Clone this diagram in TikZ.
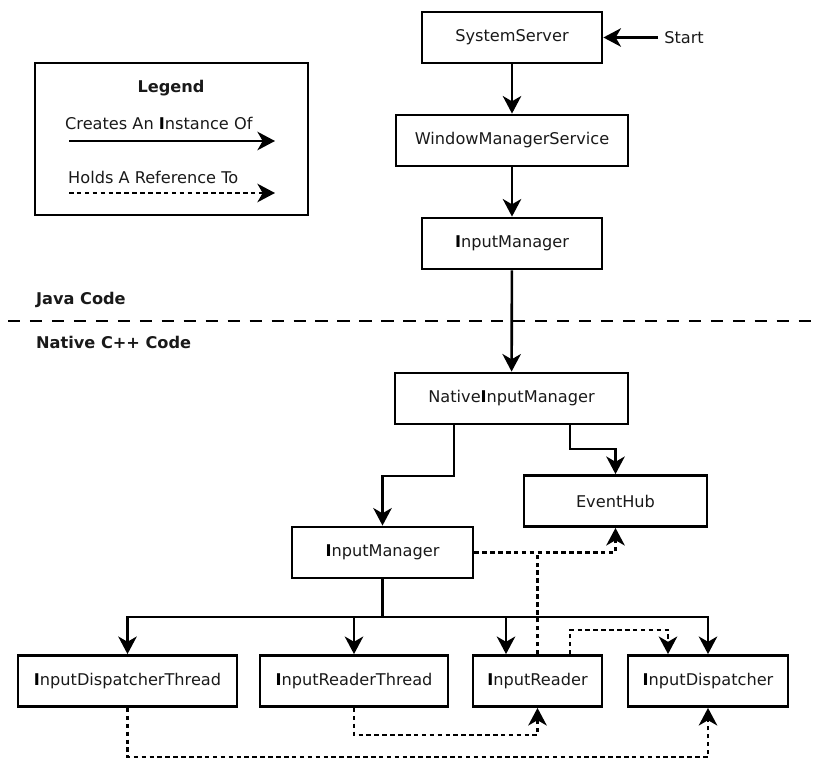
\documentclass[tikz,border=0pt]{standalone}
\usepackage{fontspec}
\setmainfont{DejaVu Sans}
\usepackage{tikz}
\usetikzlibrary{arrows.meta}
\def\boxnode{\node[draw=black,line width=1.6pt,minimum height=1.02cm,inner sep=0pt]}
\def\drawmake{\draw[line width=1.5pt,-{Stealth[length=10pt,width=10.5pt,inset=3pt]}]}
\def\drawhold{\draw[line width=1.5pt,dash pattern=on 2.6pt off 1.9pt,-{Stealth[length=10pt,width=10.5pt,inset=3pt]}]}
\def\drawholdline{\draw[line width=1.5pt,dash pattern=on 2.6pt off 1.9pt]}
\def\bI{{\color{black}\textbf{I}}}
\begin{document}
\begin{tikzpicture}[x=0.02cm,y=-0.02cm,font=\fontsize{9.2}{11}\selectfont,text=black!90]
\useasboundingbox (0,0) rectangle (813,760);
\node[draw,line width=1.6pt,minimum width=5.46cm,minimum height=3.04cm] (legend) at (171.5,139) {};
\node[font=\fontsize{9.2}{11}\selectfont\bfseries] (legtitle) at (171,88) {Legend};
\node[anchor=west] (legmake) at (59,123) {Creates An \bI nstance Of};
\coordinate (makeA) at (69,141);
\coordinate (makeB) at (275,141);
\drawmake (makeA) -- (makeB);
\node[anchor=west] (leghold) at (62,177) {Holds A Reference To};
\coordinate (holdA) at (69,193);
\coordinate (holdB) at (275,193);
\drawhold (holdA) -- (holdB);
\boxnode[minimum width=3.6cm] (sys) at (512,37.5) {SystemServer};
\node (start) at (684,37.5) {Start};
\boxnode[minimum width=4.64cm] (wms) at (512,140.5) {WindowManagerService};
\boxnode[minimum width=3.6cm] (jim) at (512,243.5) {\bI nputManager};
\node[anchor=west,font=\fontsize{9.2}{11}\selectfont\bfseries] (java) at (30,300) {Java Code};
\draw[line width=1.5pt,dash pattern=on 7pt off 5.5pt] (8,321) -- (813,321);
\node[anchor=west,font=\fontsize{9.2}{11}\selectfont\bfseries] (native) at (30,342) {Native C++ Code};
\boxnode[minimum width=4.66cm] (nim) at (511.5,398.5) {Native\bI nputManager};
\boxnode[minimum width=3.66cm] (hub) at (615.5,501) {EventHub};
\boxnode[minimum width=3.62cm] (cim) at (382.5,552.5) {\bI nputManager};
\boxnode[minimum width=4.38cm] (idt) at (127.5,681) {\bI nputDispatcherThread};
\boxnode[minimum width=3.76cm] (irt) at (354,681) {\bI nputReaderThread};
\boxnode[minimum width=2.58cm] (ir) at (537.5,681) {\bI nputReader};
\boxnode[minimum width=3.2cm] (idp) at (708,681) {\bI nputDispatcher};
\coordinate (kinkA) at (454,476);
\coordinate (kinkB) at (570,449);
\coordinate (bus) at (382.5,617);
\coordinate (hookA) at (570,630);
\coordinate (hookB) at (354,735);
\coordinate (hookC) at (127.5,757);
\drawmake (start) -- (sys);
\drawmake (sys) -- (wms);
\drawmake (wms) -- (jim);
\drawmake (jim) -- (nim);
\drawmake (nim.south -| kinkA) -- (kinkA) -| (cim);
\drawmake (nim.south -| kinkB) -- (kinkB) -| (hub);
\draw[line width=1.8pt] (cim) -- (bus);
\drawmake (bus) -| (idt);
\drawmake (bus) -| (irt);
\drawmake (bus) -| ([xshift=-0.63cm]ir.north);
\drawmake (bus) -| (idp);
\drawhold (cim) -| (hub);
\drawholdline (ir) -- (ir.north |- cim.east);
\drawhold (ir.north -| hookA) -- (hookA) -| ([xshift=-0.8cm]idp.north);
\drawhold (irt) -- (hookB) -| (ir);
\drawhold (idt) -- (hookC) -| (idp);
\end{tikzpicture}
\end{document}
